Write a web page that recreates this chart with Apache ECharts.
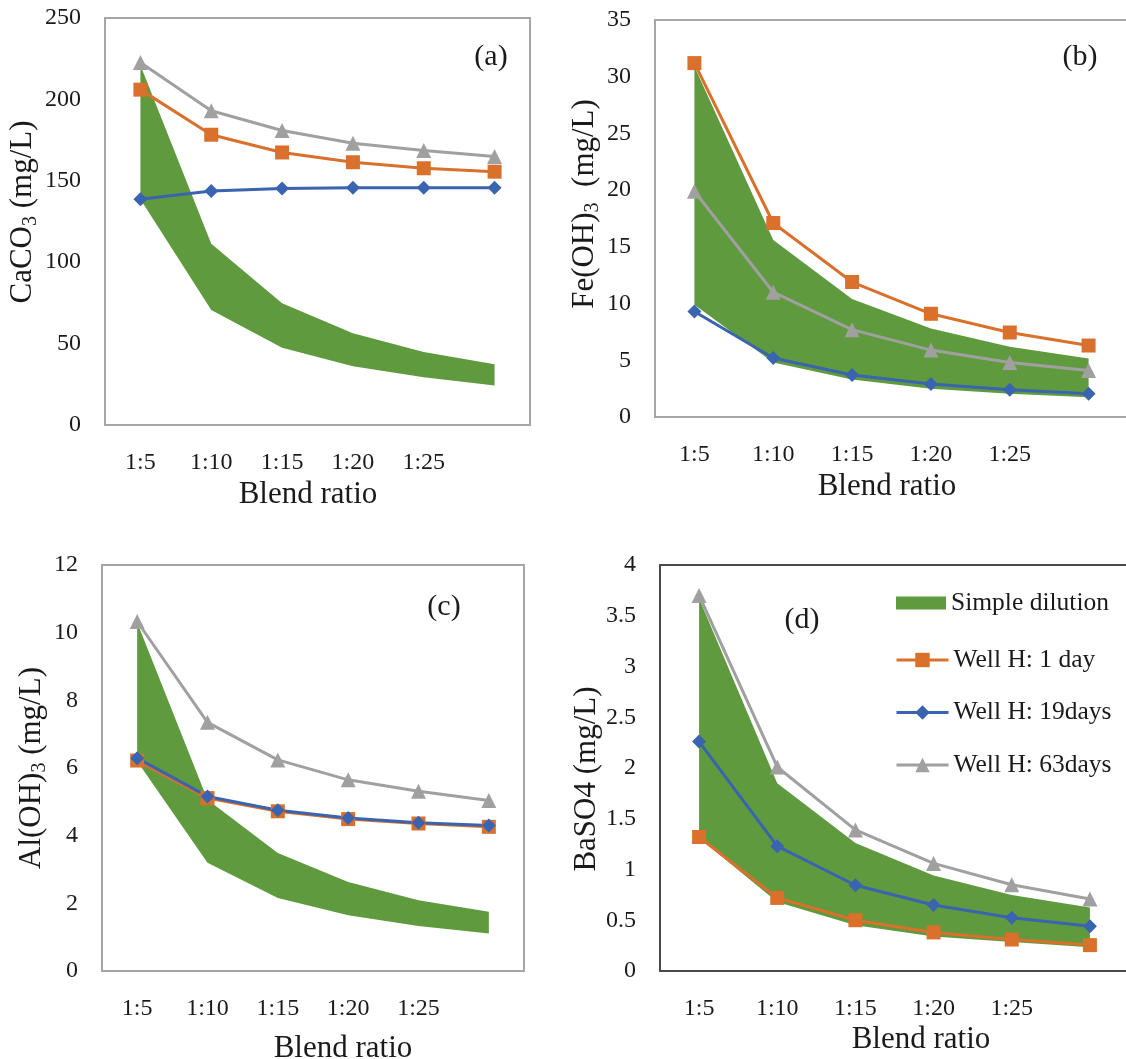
<!DOCTYPE html>
<html><head><meta charset="utf-8">
<script src="https://cdn.jsdelivr.net/npm/echarts@6/dist/echarts.min.js"></script>
<style>html,body{margin:0;padding:0;background:#fff}#chart{width:1126px;height:1059px}</style>
</head><body><div id="chart"></div>
<script>
// ---------- data ----------
const categories = ['1:5', '1:10', '1:15', '1:20', '1:25', ''];
const seriesNames = ['Simple dilution', 'Well H: 1 day', 'Well H: 19days', 'Well H: 63days'];
const panelLabels = ['(a)', '(b)', '(c)', '(d)'];
const xTitle = 'Blend ratio';

// (a) CaCO3
const caco3Day1  = [206, 178.3, 167.4, 161.4, 157.7, 155.6];
const caco3Day19 = [138.7, 143.7, 145.3, 145.7, 145.7, 145.7];
const caco3Day63 = [222.6, 193, 180.9, 173.1, 168.6, 164.9];
const caco3DilLow  = [138.7, 70.7, 47.4, 36.1, 29.3, 24.3];
const caco3DilHigh = [221, 111.3, 74.8, 56.3, 44.9, 37.3];
const caco3Ticks = [0, 250, 50];

// (b) Fe(OH)3
const feDay1  = [31.2, 17.1, 11.9, 9.1, 7.45, 6.3];
const feDay19 = [9.3, 5.2, 3.7, 2.9, 2.4, 2.05];
const feDay63 = [19.9, 11.0, 7.7, 5.9, 4.8, 4.1];
const feDilLow  = [9.9, 4.8, 3.3, 2.5, 2.05, 1.75];
const feDilHigh = [30.9, 15.6, 10.4, 7.8, 6.2, 5.15];
const feTicks = [0, 35, 5];

// (c) Al(OH)3
const alDay1  = [6.22, 5.11, 4.72, 4.49, 4.36, 4.26];
const alDay19 = [6.29, 5.16, 4.75, 4.52, 4.38, 4.3];
const alDay63 = [10.33, 7.35, 6.24, 5.65, 5.31, 5.04];
const alDilLow  = [6.2, 3.2, 2.16, 1.65, 1.33, 1.11];
const alDilHigh = [10.3, 5.06, 3.49, 2.63, 2.09, 1.75];
const alTicks = [0, 12, 2];

// (d) BaSO4
const baDay1  = [1.32, 0.72, 0.5, 0.38, 0.31, 0.255];
const baDay19 = [2.26, 1.23, 0.845, 0.65, 0.525, 0.44];
const baDay63 = [3.70, 2.01, 1.39, 1.06, 0.85, 0.71];
const baDilLow  = [1.31, 0.68, 0.45, 0.34, 0.285, 0.235];
const baDilHigh = [3.67, 1.85, 1.26, 0.94, 0.75, 0.625];
const baTicks = [0, 4, 0.5];

// ---------- styling / layout ----------
const FONT = '"Liberation Serif", "Times New Roman", serif';
const TXT = '#1a1a1a';
const C_GREEN = '#5F9A3F', C_ORANGE = '#D9702B', C_BLUE = '#3A64AF', C_GRAY = '#A0A0A0';

const panels = [
  { grid: {left:105, top:18, width:425, height:407}, border:'#A6A6A6',
    yName:'{n|CaCO}{s|3}{n| (mg/L)}', yGap:63, yPad:[0,0,0,19], xGap:54, xPad:[0,19,0,0],
    ticks:caco3Ticks, d1:caco3Day1, d19:caco3Day19, d63:caco3Day63, lo:caco3DilLow, hi:caco3DilHigh,
    label:{x:491, y:57} },
  { grid: {left:655, top:20, width:473, height:397}, border:'#A6A6A6',
    yName:'{n|Fe(OH)}{s|3}{n|  (mg/L)}', yGap:53, yPad:[0,0,0,29], xGap:54, xPad:[0,9,0,0],
    ticks:feTicks, d1:feDay1, d19:feDay19, d63:feDay63, lo:feDilLow, hi:feDilHigh,
    label:{x:1080, y:57} },
  { grid: {left:102, top:565, width:422, height:406}, border:'#A6A6A6',
    yName:'{n|Al(OH)}{s|3}{n| (mg/L)}', yGap:47, yPad:[0,0,0,0], xGap:62, xPad:[0,0,0,60],
    ticks:alTicks, d1:alDay1, d19:alDay19, d63:alDay63, lo:alDilLow, hi:alDilHigh,
    label:{x:444, y:607} },
  { grid: {left:660, top:565, width:469, height:406}, border:'#4a4a4a',
    yName:'{n|BaSO4 (mg/L)}', yGap:58, yPad:[0,22,0,0], xGap:53, xPad:[0,0,0,53],
    ticks:baTicks, d1:baDay1, d19:baDay19, d63:baDay63, lo:baDilLow, hi:baDilHigh,
    label:{x:802, y:620} }
];

const grids = [], xAxes = [], yAxes = [], series = [], graphics = [];
panels.forEach((p, i) => {
  grids.push(Object.assign({show:true, borderColor:p.border, borderWidth:2, backgroundColor:'transparent',
    containLabel:false, outerBoundsMode:'none'}, p.grid));
  xAxes.push({
    type:'category', gridIndex:i, data:categories, boundaryGap:true,
    axisLine:{show:false}, axisTick:{show:false}, splitLine:{show:false},
    axisLabel:{margin:26, fontFamily:FONT, fontSize:24, color:TXT, interval:0},
    name:xTitle, nameLocation:'middle', nameGap:p.xGap,
    nameTextStyle:{fontFamily:FONT, fontSize:31, color:TXT, padding:p.xPad}
  });
  yAxes.push({
    type:'value', gridIndex:i, min:p.ticks[0], max:p.ticks[1], interval:p.ticks[2],
    axisLine:{show:false}, axisTick:{show:false}, splitLine:{show:false},
    axisLabel:{margin:24, fontFamily:FONT, fontSize:24, color:TXT, padding:[4,0,0,0]},
    name:p.yName, nameLocation:'middle', nameRotate:90, nameGap:p.yGap,
    nameTextStyle:{color:TXT, padding:p.yPad, rich:{
      n:{fontFamily:FONT, fontSize:31, lineHeight:31, color:TXT, verticalAlign:'top'},
      s:{fontFamily:FONT, fontSize:20, lineHeight:20, color:TXT, verticalAlign:'top', padding:[14,0,0,0]}
    }}
  });
  const stackId = 'band' + i;
  series.push({
    type:'line', name:'base' + i, xAxisIndex:i, yAxisIndex:i, stack:stackId,
    data:p.lo, symbol:'none', lineStyle:{width:0, opacity:0}, silent:true, z:1
  });
  series.push({
    type:'line', name:seriesNames[0], xAxisIndex:i, yAxisIndex:i, stack:stackId,
    data:p.hi.map((v, k) => +(v - p.lo[k]).toFixed(4)),
    symbol:'none', lineStyle:{width:0, opacity:0}, color:C_GREEN,
    itemStyle:{color:C_GREEN}, areaStyle:{color:C_GREEN, opacity:1}, silent:true, z:1
  });
  const mk = (name, data, color, symbol, size) => ({
    type:'line', name, xAxisIndex:i, yAxisIndex:i, data, color,
    symbol, symbolSize:size, showSymbol:true,
    lineStyle:{width:3, color}, itemStyle:{color}, z:2
  });
  series.push(mk(seriesNames[1], p.d1, C_ORANGE, 'rect', 14));
  series.push(mk(seriesNames[2], p.d19, C_BLUE, 'diamond', 14));
  series.push(mk(seriesNames[3], p.d63, C_GRAY, 'triangle', 15));
  graphics.push({
    type:'text', x:p.label.x, y:p.label.y,
    style:{text:panelLabels[i], font:'30px ' + FONT, fill:TXT, textAlign:'center', textVerticalAlign:'middle'}
  });
});

const legendText = {fontFamily:FONT, fontSize:25.5, color:TXT};
const chart = echarts.init(document.getElementById('chart'), null, {renderer:'canvas'});
chart.setOption({
  animation:false,
  backgroundColor:'#ffffff',
  grid:grids, xAxis:xAxes, yAxis:yAxes, series,
  graphic:graphics,
  legend:[
    { orient:'vertical', left:896, top:590, padding:0, itemWidth:50, itemHeight:13,
      textStyle:legendText, data:[{name:seriesNames[0], icon:'rect'}] },
    { orient:'vertical', left:895, top:647, padding:0, itemWidth:52, itemHeight:18, itemGap:26.5,
      lineStyle:{width:3}, textStyle:legendText,
      data:[seriesNames[1], seriesNames[2], seriesNames[3]] }
  ]
});
</script></body></html>
